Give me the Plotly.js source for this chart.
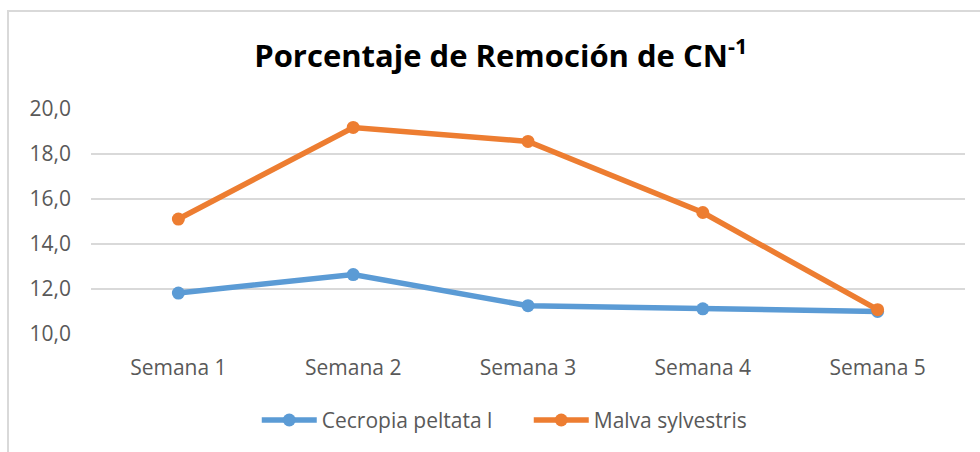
<!DOCTYPE html>
<html>
<head>
<meta charset="utf-8">
<script src="https://cdn.plot.ly/plotly-3.0.1.min.js"></script>
<style>
html,body{margin:0;padding:0;background:#fff;}
#wrap{position:relative;width:980px;height:452px;}
#chart{width:980px;height:452px;}
#frame{position:absolute;left:7px;top:10px;width:990px;height:460px;border-left:2px solid #d9d9d9;border-top:2px solid #d9d9d9;pointer-events:none;}
</style>
</head>
<body>
<div id="wrap"><div id="chart"></div><div id="frame"></div></div>
<script>
const categories = ["Semana 1", "Semana 2", "Semana 3", "Semana 4", "Semana 5"];
const cecropia = [11.82, 12.64, 11.26, 11.12, 11.0];
const malva = [15.11, 19.18, 18.56, 15.40, 11.08];
const seriesNames = ["Cecropia peltata l", "Malva sylvestris"];
const yTicks = [10, 12, 14, 16, 18, 20];

const traces = [
  {x: categories, y: cecropia, name: seriesNames[0], type: "scatter", mode: "lines+markers",
   line: {color: "#5b9bd5", width: 5.5}, marker: {color: "#5b9bd5", size: 13}},
  {x: categories, y: malva, name: seriesNames[1], type: "scatter", mode: "lines+markers",
   line: {color: "#ed7d31", width: 5.5}, marker: {color: "#ed7d31", size: 13}}
];

const layout = {
  width: 980, height: 452,
  paper_bgcolor: "rgba(0,0,0,0)", plot_bgcolor: "#fff",
  separators: ",.",
  margin: {l: 91, r: 15, t: 109, b: 118},
  font: {family: "Open Sans, sans-serif", color: "#595959", size: 21},
  title: {text: "<b>Porcentaje de Remoción de CN<sup>-1</sup></b>", x: 0.511, xref: "container",
          y: 0.875, yref: "container", yanchor: "middle",
          font: {family: "Open Sans, sans-serif", size: 31, color: "#000"}},
  xaxis: {type: "category", range: [-0.5, 4.5], showgrid: false, zeroline: false, showline: false,
          ticks: "", ticklabelstandoff: 19, tickfont: {size: 21, color: "#595959"}},
  yaxis: {range: [10, 20], tickvals: yTicks, tickformat: ".1f", showgrid: true, gridcolor: "#d9d9d9",
          gridwidth: 1.5, zeroline: false, showline: false, ticks: "", ticklabelstandoff: 19,
          tickfont: {size: 21, color: "#595959"}},
  showlegend: true,
  legend: {orientation: "h", x: 0.262, xref: "container", xanchor: "left", y: 0.07, yref: "container",
           yanchor: "middle", font: {size: 21, color: "#595959"}, itemwidth: 55, entrywidth: 202,
           traceorder: "normal"}
};

Plotly.newPlot("chart", traces, layout, {displayModeBar: false, staticPlot: true});
</script>
</body>
</html>
